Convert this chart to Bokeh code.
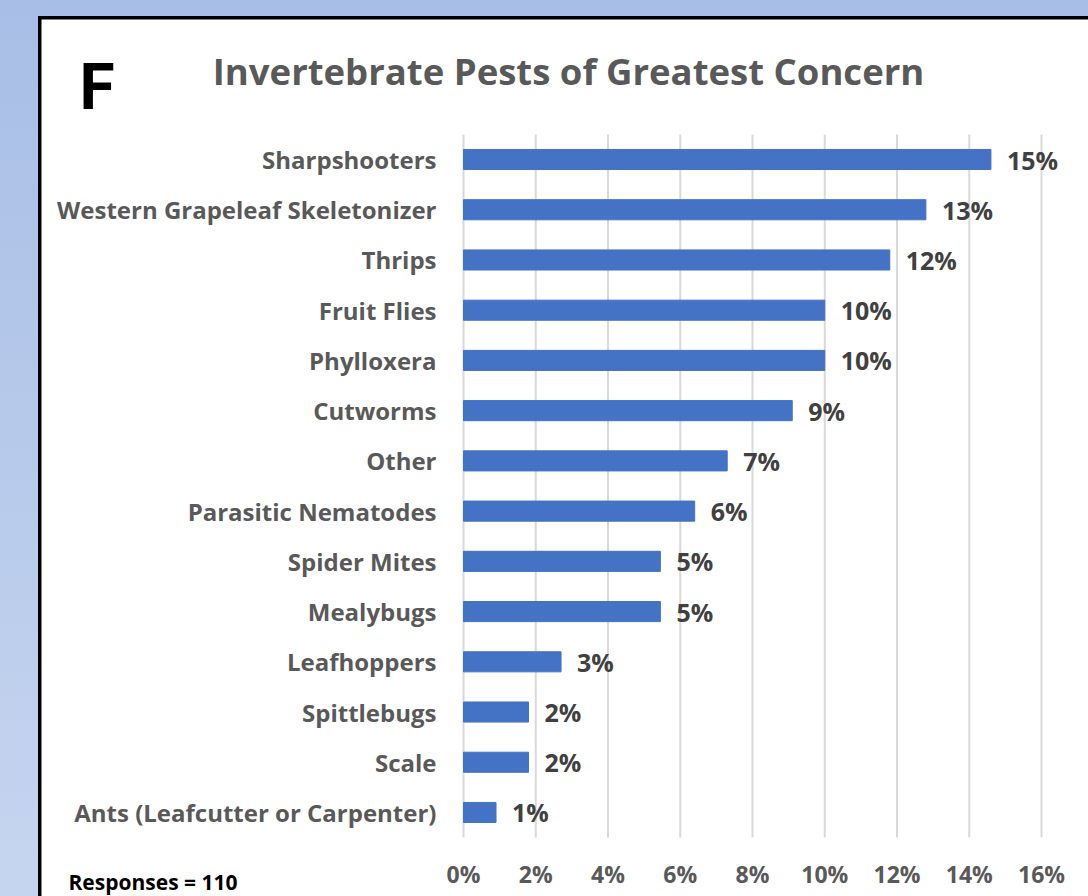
from bokeh.plotting import figure
from bokeh.models import Range1d, ColumnDataSource, Label
from bokeh.layouts import column
from bokeh.embed import file_html
from bokeh.resources import INLINE
from bokeh.core.properties import value

categories = ["Sharpshooters", "Western Grapeleaf Skeletonizer", "Thrips", "Fruit Flies",
              "Phylloxera", "Cutworms", "Other", "Parasitic Nematodes", "Spider Mites",
              "Mealybugs", "Leafhoppers", "Spittlebugs", "Scale", "Ants (Leafcutter or Carpenter)"]
percents = [14.6, 12.8, 11.8, 10.0, 10.0, 9.1, 7.3, 6.4, 5.45, 5.45, 2.7, 1.8, 1.8, 0.9]
value_labels = ["15%", "13%", "12%", "10%", "10%", "9%", "7%", "6%", "5%", "5%", "3%", "2%", "2%", "1%"]
x_ticks = [0, 2, 4, 6, 8, 10, 12, 14, 16]
tick_labels = ["0%", "2%", "4%", "6%", "8%", "10%", "12%", "14%", "16%"]

FONT = "Open Sans"
GREY = "#595959"

# canvas geometry (pixels)
W, H = 1047, 877
X0 = 422            # pixel of 0 %
PX_PER_PCT = 36.125
Y0 = 140            # pixel centre of first category
SLOT = 50.23

rank = list(range(len(categories)))
src = ColumnDataSource(dict(cat=categories, pct=percents, lab=value_labels, rank=rank))
tsrc = ColumnDataSource(dict(t=x_ticks, lab=tick_labels))

p = figure(width=W, height=H,
           x_range=Range1d(-X0 / PX_PER_PCT, (W - X0) / PX_PER_PCT),
           y_range=Range1d((H - Y0) / SLOT, -Y0 / SLOT),
           output_backend="svg", toolbar_location=None,
           min_border=0, margin=(19, 0, 0, 41))
p.axis.visible = False
p.grid.visible = False
p.outline_line_color = None
p.background_fill_color = "white"
p.border_fill_color = "white"

# vertical gridlines
top_edge, bottom_edge = -0.5, len(categories) - 0.5
p.segment(x0="t", x1="t", y0=top_edge, y1=bottom_edge, source=tsrc,
          line_color="#D9D9D9", line_width=2)

p.hbar(y="rank", right="pct", left=0, height=0.4, source=src, color="#4472C4")

# category labels
p.text(x=0, y="rank", text="cat", source=src, x_offset=-27, text_align="right",
       text_baseline="middle", text_font=value(FONT), text_font_style="bold",
       text_font_size="24px", text_color=GREY)

# value labels
p.text(x="pct", y="rank", text="lab", source=src, x_offset=16, text_align="left",
       text_baseline="middle", text_font=value(FONT), text_font_style="bold",
       text_font_size="25px", text_color="#404040")

# x tick labels
p.text(x="t", y=bottom_edge, text="lab", source=tsrc, y_offset=36, text_align="center",
       text_baseline="middle", text_font=value(FONT), text_font_style="bold",
       text_font_size="23px", text_color=GREY)

title = Label(x=527, y=H - 51, x_units="screen", y_units="screen",
              text="Invertebrate Pests of Greatest Concern", text_align="center",
              text_baseline="middle", text_font=FONT, text_font_style="bold",
              text_font_size="36.5px", text_color=GREY)
p.add_layout(title)

flab = Label(x=38, y=H - 68, x_units="screen", y_units="screen", text="F",
             text_align="left", text_baseline="middle", text_font="Roboto",
             text_font_style="bold", text_font_size="64px", text_color="black")
p.add_layout(flab)

resp = Label(x=27, y=H - 862, x_units="screen", y_units="screen", text="Responses = 110",
             text_align="left", text_baseline="middle", text_font=FONT,
             text_font_style="bold", text_font_size="21px", text_color="black")
p.add_layout(resp)

layout = column(p, width=1088, height=896, styles={
    "background": "linear-gradient(#000000, #000000) 38px 16px / 1050px 880px no-repeat, "
                  "linear-gradient(to bottom, #A8BEE6, #C6D5EF)"})

open("out.html", "w").write(file_html(layout, INLINE))
